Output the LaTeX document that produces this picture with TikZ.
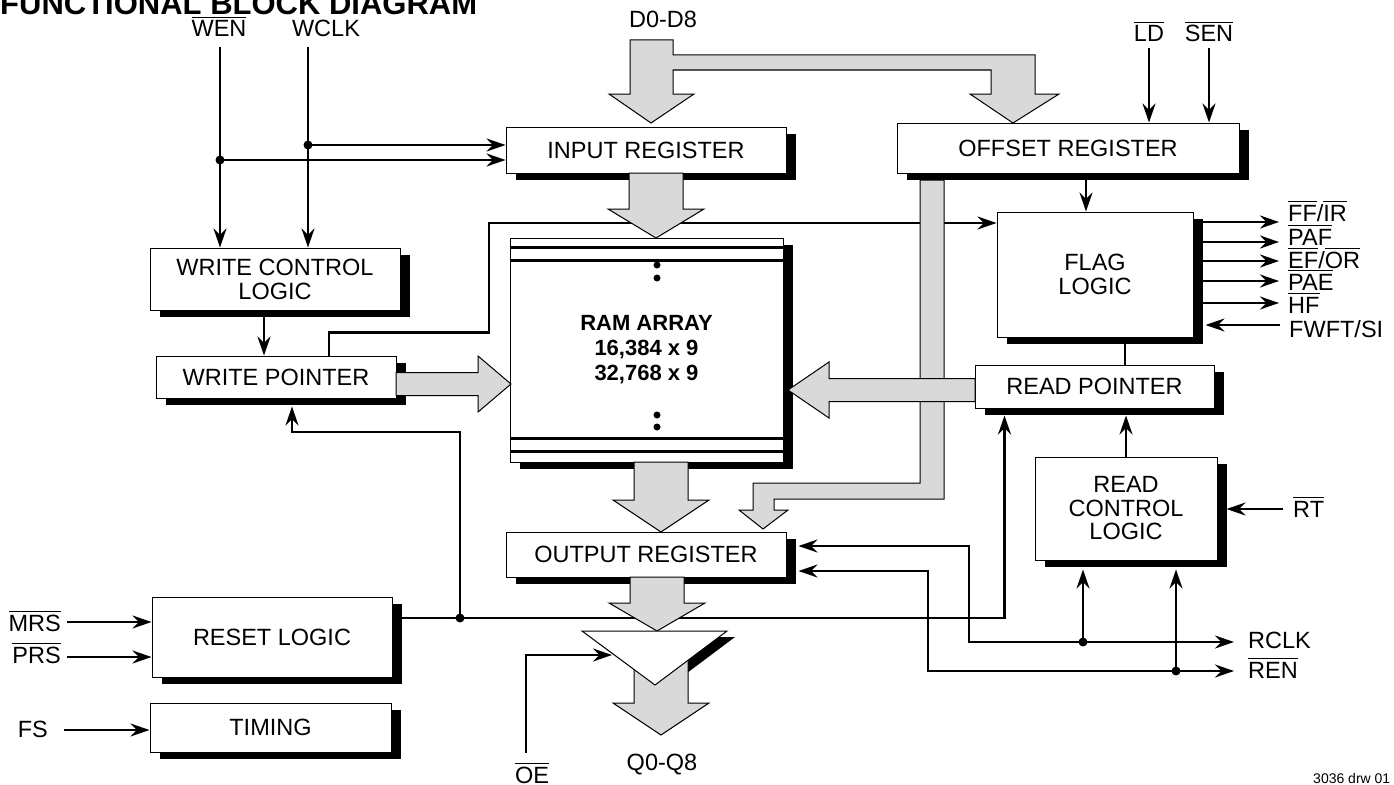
\documentclass[tikz,border=0pt]{standalone}
\usepackage{fontspec}
\setmainfont{Liberation Sans}
\usetikzlibrary{calc,shadows,arrows.meta}

% overlined signal name
\newcommand{\ovl}[1]{\setbox0\hbox{#1}\rlap{\rule[\dimexpr\ht0+2.5pt\relax]{\wd0}{1.4pt}}\box0}
% fat data buses (down / sideways)
\newcommand{\vbus}[4]{\draw[bus] (#1-27,#2) -- (#1+27,#2) -- (#1+27,#3) -- (#1+48,#3) -- (#1,#4) -- (#1-48,#3) -- (#1-27,#3) -- cycle;}
\newcommand{\hbus}[4]{\draw[bus] (#2,#1-11.5) -- (#3,#1-11.5) -- (#3,#1-28) -- (#4,#1) -- (#3,#1+28) -- (#3,#1+11.5) -- (#2,#1+11.5) -- cycle;}

\begin{document}
\begin{tikzpicture}[
    x=1pt, y=-1pt,
    >={Stealth[length=19pt, width=13pt, inset=6.5pt]},
    every node/.style={font=\fontsize{23.5}{23.5}\selectfont},
    block/.style={rectangle, draw, fill=white, line width=1pt, inner sep=0pt, align=center,
        drop shadow={shadow xshift=10pt, shadow yshift=-7pt, fill=black, opacity=1}},
    sig/.style={line width=2.4pt},
    arr/.style={sig, ->},
    bus/.style={draw, fill=gray!30, line width=1pt},
    lbl/.style={inner sep=0pt}
]
    \path[use as bounding box, fill=white] (0,0) rectangle (1394,784);

    % Blocks
    \node[block, minimum width=280pt, minimum height=46pt] (inreg) at (646,150) {INPUT REGISTER};
    \node[block, minimum width=342pt, minimum height=50pt] (offreg) at (1068,148) {OFFSET REGISTER};
    \node[block, minimum width=196pt, minimum height=125pt] (flag) at (1095,274.5) {FLAG\\LOGIC};
    \node[block, minimum width=239pt, minimum height=43pt] (rdptr) at (1094.5,386.5) {READ POINTER};
    \node[block, minimum width=273pt, minimum height=224pt, font=\fontsize{22}{25}\selectfont\bfseries] (ram) at (646.5,350) {RAM ARRAY\\16,384 x 9\\32,768 x 9};
    \node[block, minimum width=250pt, minimum height=62pt, font=\fontsize{23.5}{24}\selectfont] (wcl) at (275,279) {WRITE CONTROL\\LOGIC};
    \node[block, minimum width=240pt, minimum height=42pt] (wrptr) at (276,377) {WRITE POINTER};
    \node[block, minimum width=182pt, minimum height=103pt] (rcl) at (1126,508.5) {READ\\CONTROL\\LOGIC};
    \node[block, minimum width=280pt, minimum height=45pt] (outreg) at (646,554.5) {OUTPUT REGISTER};
    \node[block, minimum width=240pt, minimum height=80pt] (reset) at (272,637) {RESET LOGIC};
    \node[block, minimum width=241pt, minimum height=49pt] (timing) at (270.5,727.5) {TIMING};

    % RAM array rows
    \draw[line width=2.2pt] ($(ram.north west)+(0,10)$) -- ($(ram.north east)+(0,10)$);
    \draw[line width=2.2pt] ($(ram.north west)+(0,23)$) -- ($(ram.north east)+(0,23)$);
    \draw[line width=2.2pt] ($(ram.south west)+(0,-24)$) -- ($(ram.south east)+(0,-24)$);
    \draw[line width=2.2pt] ($(ram.south west)+(0,-11)$) -- ($(ram.south east)+(0,-11)$);
    \fill (657,265) circle[radius=3.5pt] (657,278) circle[radius=3.5pt];
    \fill (657,415) circle[radius=3.5pt] (657,427) circle[radius=3.5pt];

    % Signal names
    \node[lbl, anchor=base west, font=\fontsize{31}{31}\selectfont\bfseries] (title) at (0,15) {FUNCTIONAL BLOCK DIAGRAM};
    \node[lbl, anchor=base] (wenl) at (219,37) {\ovl{WEN}};
    \node[lbl, anchor=base] (wclkl) at (326,37) {WCLK};
    \node[lbl, anchor=base] (dl) at (663,28) {D0-D8};
    \node[lbl, anchor=base] (ldl) at (1149,42) {\ovl{LD}};
    \node[lbl, anchor=base] (senl) at (1209,42) {\ovl{SEN}};
    \node[lbl, anchor=base west] (ffirl) at (1288,221) {\ovl{FF}/\ovl{IR}};
    \node[lbl, anchor=base west] (pafl) at (1288,245) {\ovl{PAF}};
    \node[lbl, anchor=base west] (efl) at (1288,268) {\ovl{EF}/\ovl{OR}};
    \node[lbl, anchor=base west] (pael) at (1288,290) {\ovl{PAE}};
    \node[lbl, anchor=base west] (hfl) at (1288,313) {\ovl{HF}};
    \node[lbl, anchor=base west] (fwftl) at (1289,337) {FWFT/SI};
    \node[lbl, anchor=base west] (rtl) at (1293,517) {\ovl{RT}};
    \node[lbl, anchor=base west] (rclkl) at (1248,648) {RCLK};
    \node[lbl, anchor=base west] (renl) at (1248,678) {\ovl{REN}};
    \node[lbl, anchor=base east] (mrsl) at (61,631) {\ovl{MRS}};
    \node[lbl, anchor=base east] (prsl) at (61,663) {\ovl{PRS}};
    \node[lbl, anchor=base east] (fsl) at (48,737) {FS};
    \node[lbl, anchor=base] (qol) at (662,770) {Q0-Q8};
    \node[lbl, anchor=base] (oel) at (532,783) {\ovl{OE}};
    \node[lbl, anchor=base west, font=\fontsize{14}{14}\selectfont] (drw) at (1313,783) {3036 drw 01};

    % Junctions and free ends
    \coordinate (wen) at (220,47);
    \coordinate (wclk) at (308,47);
    \coordinate (wenj) at (220,160);
    \coordinate (wclkj) at (308,145);
    \coordinate (fl) at (489,223);
    \coordinate (rsj) at (460,618);
    \coordinate (rclkj) at (1083,642);
    \coordinate (renj) at (1176,671);
    \coordinate (rclkin) at (1234,642);
    \coordinate (renin) at (1234,671);
    \coordinate (oein) at (526,753);
    \coordinate (oetip) at (612,655);

    % Write side
    \draw[arr] (wen) -- (wen |- wcl.north);
    \draw[arr] (wclk) -- (wclk |- wcl.north);
    \draw[arr] (wenj) -- (wenj -| inreg.west);
    \draw[arr] (wclkj) -- (wclkj -| inreg.west);
    \draw[arr] ($(wcl.south)+(-11,0)$) coordinate (wc) -- (wc |- wrptr.north);
    \draw[arr] ($(wrptr.north)+(53,0)$) -- ++(0,-23) -| (fl) -- (fl -| flag.west);

    % Offset / flags
    \draw[arr, shorten <=6pt] (ldl.south) -- (ldl.south |- offreg.north);
    \draw[arr, shorten <=6pt] (senl.south) -- (senl.south |- offreg.north);
    \draw[arr] ($(offreg.south)+(18,0)$) coordinate (of) -- (of |- flag.north);
    \draw[sig] ($(flag.south)+(30,0)$) coordinate (fr) -- (fr |- rdptr.north);
    \draw[arr, shorten >=9pt] (flag.east |- 0,222) -- (ffirl.west |- 0,222);
    \draw[arr, shorten >=9pt] (flag.east |- 0,242) -- (pafl.west |- 0,242);
    \draw[arr, shorten >=9pt] (flag.east |- 0,261) -- (efl.west |- 0,261);
    \draw[arr, shorten >=9pt] (flag.east |- 0,281) -- (pael.west |- 0,281);
    \draw[arr, shorten >=9pt] (flag.east |- 0,303) -- (hfl.west |- 0,303);
    \draw[arr, shorten <=9pt] (fwftl.west |- 0,325) -- ($(flag.east |- 0,325)+(12,0)$);

    % Read side
    \draw[arr] (rcl.north) -- ($(rcl.north |- rdptr.south)+(0,7)$);
    \draw[arr, shorten <=10pt] (rtl.west |- 0,509) -- ($(rcl.east |- 0,509)+(9,0)$);
    \draw[sig, <->] ($(outreg.east |- 0,546)+(12,0)$) -| (969,642) -- (rclkin);
    \draw[sig, <->] ($(outreg.east |- 0,571)+(12,0)$) -| (928,671) -- (renin);
    \draw[arr] (rclkj) -- ($(rclkj |- rcl.south)+(0,9)$);
    \draw[arr] (renj) -- ($(renj |- rcl.south)+(0,9)$);

    % Reset / inputs
    \draw[arr] (reset.east |- 0,618) -| ($(rdptr.south)+(-90,7)$);
    \draw[arr] (rsj) -- (rsj |- 0,432) -| ($(wrptr.south)+(16,8)$);
    \draw[arr, shorten <=6pt] (mrsl.east |- 0,622) -- (reset.west |- 0,622);
    \draw[arr, shorten <=6pt] (prsl.east |- 0,657) -- (reset.west |- 0,657);
    \draw[arr, shorten <=16pt] (fsl.east |- 0,730) -- (timing.west |- 0,730);

    % Data buses
    \draw[bus] (630,40) -- (673,40) -- (673,55) -- (1035,55) -- (1035,94) -- (1059,94) -- (1013,123)
        -- (970,94) -- (991,94) -- (991,70) -- (673,70) -- (673,94) -- (694,94) -- (651,123)
        -- (609,94) -- (630,94) -- cycle;
    \draw[bus] (920,180) -- (944,180) -- (944,499) -- (774,499) -- (774,510) -- (788,510) -- (763,529)
        -- (739,510) -- (753,510) -- (753,483) -- (920,483) -- cycle;
    \vbus{656}{173}{209}{238}
    \vbus{661}{462}{500}{532}
    \vbus{657}{577}{603}{631}
    \hbus{384}{396}{478}{511}
    \hbus{390}{975}{829}{788}

    % Output buffer
    \coordinate (tl) at (582,631);
    \coordinate (tr) at (727,631);
    \coordinate (tb) at (655,685);
    \fill ($(tl)+(8,6)$) -- ($(tr)+(8,6)$) -- ($(tb)+(8,6)$) -- cycle;
    \vbus{661}{650}{703}{735}
    \draw[fill=white, line width=1pt] (tl) -- (tr) -- (tb) -- cycle;
    \draw[arr] (oein) |- (oetip);

    % Dots
    \foreach \j in {wenj, wclkj, rsj, rclkj, renj}
        \fill (\j) circle[radius=4.5pt];
\end{tikzpicture}
\end{document}
